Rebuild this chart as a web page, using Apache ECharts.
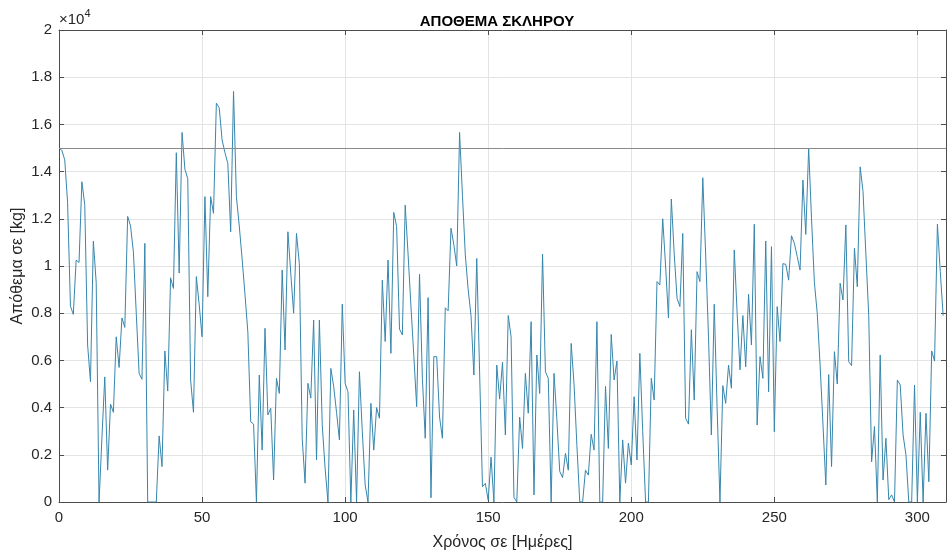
<!DOCTYPE html>
<html>
<head>
<meta charset="utf-8">
<script src="https://cdn.jsdelivr.net/npm/echarts@6/dist/echarts.min.js"></script>
<style>
  html, body { margin: 0; padding: 0; background: #ffffff; }
  #chart { width: 948px; height: 555px; }
</style>
</head>
<body>
<div id="chart"></div>
<script>
// Daily stock level of steel (kg), day 0 .. 309
const stockKg = [
  15000, 14900, 14500, 12700, 8300, 7950, 10250, 10150, 13570, 12600,
  6650, 5100, 11050, 9300, 0, 2700, 5300, 1350, 4150, 3800,
  7000, 5700, 7800, 7400, 12100, 11700, 10600, 8000, 5450, 5200,
  10960, 0, 0, 0, 0, 2800, 1500, 6400, 4700, 9500,
  9050, 14800, 9700, 15660, 14100, 13700, 5170, 3800, 9550, 8350,
  7000, 12940, 8700, 12940, 12230, 16900, 16700, 15340, 14800, 14350,
  11450, 17400, 12940, 11700, 10300, 8800, 7200, 3400, 3300, 0,
  5380, 2200, 7360, 3690, 3970, 930, 5240, 4600, 9830, 6440,
  11450, 9700, 8000, 11380, 10100, 2700, 800, 5030, 4400, 7710,
  1780, 7710, 3260, 1430, 0, 5660, 4900, 3800, 2630, 8380,
  5030, 4670, 0, 3900, 0, 5520, 3000, 720, 0, 4180,
  2200, 4000, 3550, 9400, 6800, 10250, 6300, 12270, 11670, 7330,
  7080, 12580, 10500, 8300, 6200, 4040, 9650, 5240, 2700, 8660,
  180, 6160, 6160, 3600, 2700, 8230, 8100, 11600, 10900, 10000,
  15660, 13000, 10470, 9000, 7900, 5380, 10320, 5500, 650, 790,
  80, 1900, 0, 5800, 4360, 5920, 2840, 7900, 7000, 200,
  0, 3600, 2270, 5450, 3760, 7640, 300, 6230, 4600, 10500,
  5520, 5240, 0, 5450, 3500, 1300, 1030, 2060, 1350, 6720,
  5000, 2400, 0, 0, 1350, 1140, 2870, 2200, 7640, 0,
  0, 4900, 2270, 7100, 5170, 5970, 0, 2630, 800, 2500,
  1570, 4460, 1780, 6300, 3000, 0, 0, 5240, 4320, 9340,
  9200, 12000, 10000, 7800, 12840, 10540, 8630, 8280, 11380, 3550,
  3300, 7300, 4320, 9760, 9340, 13740, 10500, 7000, 2840, 8380,
  4000, 0, 4930, 4180, 5800, 4820, 10680, 8000, 5600, 7900,
  5730, 8800, 6650, 11770, 3260, 6160, 5240, 11060, 4670, 10820,
  2980, 8280, 6800, 10100, 10070, 9400, 11280, 10960, 10400, 9830,
  13640, 11340, 15000, 12000, 9300, 8000, 5800, 3300, 720, 5400,
  1500, 6370, 5000, 9270, 8560, 11740, 5950, 5780, 10750, 9120,
  14200, 13150, 10500, 7900, 1700, 3200, 0, 6230, 930, 2700,
  100, 300, 0, 5170, 4960, 2840, 2000, 0, 0, 4960,
  0, 3800, 0, 3760, 860, 6400, 5970, 11770, 9760, 7900
];

// Reference stock level (kg)
const stockLimitKg = 15000;

// Axis ranges and tick spacing
const dayMin = 0, dayMax = 310, dayStep = 50;
const kgMin = 0, kgMax = 20000, kgStep = 2000;

const titleText = 'ΑΠΟΘΕΜΑ ΣΚΛΗΡΟΥ';
const xName = 'Χρόνος σε [Ημέρες]';
const yName = 'Απόθεμα σε [kg]';

const points = stockKg.map((v, i) => [i, v]);

const font = '"Liberation Sans", Arial, Helvetica, sans-serif';
const axisColor = '#4d4d4d';
const textColor = '#262626';
const gridColor = '#e3e3e3';

const chart = echarts.init(document.getElementById('chart'), null, { renderer: 'canvas' });

chart.setOption({
  animation: false,
  backgroundColor: '#ffffff',
  textStyle: { fontFamily: font },
  title: {
    text: titleText,
    left: 492,
    top: 9,
    textAlign: 'center',
    textStyle: { fontFamily: font, fontSize: 15, fontWeight: 'bold', color: '#000000' }
  },
  graphic: [{
    type: 'text',
    left: 59,
    top: 8,
    style: {
      text: '{a|×10}{b|4}',
      rich: {
        a: { fontFamily: font, fontSize: 15, fill: textColor, verticalAlign: 'bottom' },
        b: { fontFamily: font, fontSize: 11, fill: textColor, padding: [0, 0, 8, 0] }
      }
    }
  }, {
    // vertical axis title
    type: 'text',
    x: 18,
    y: 266,
    rotation: Math.PI / 2,
    style: {
      text: yName,
      fontFamily: font,
      fontSize: 16,
      fill: textColor,
      align: 'center',
      verticalAlign: 'middle'
    }
  }],
  grid: {
    left: 59, top: 30, width: 887, height: 472,
    containLabel: false, outerBoundsMode: 'none', show: false
  },
  xAxis: [{
    type: 'value',
    min: dayMin, max: dayMax, interval: dayStep,
    name: xName,
    nameLocation: 'middle',
    nameGap: 33,
    nameTextStyle: { fontFamily: font, fontSize: 16, color: textColor },
    axisLine: { show: true, onZero: false, lineStyle: { color: axisColor, width: 1 } },
    axisTick: { show: true, inside: true, length: 5, lineStyle: { color: axisColor } },
    axisLabel: { fontFamily: font, fontSize: 15, color: textColor, margin: 8, showMaxLabel: false },
    splitLine: { show: true, lineStyle: { color: gridColor, width: 1 } }
  }, {
    type: 'value', position: 'top',
    min: dayMin, max: dayMax, interval: dayStep,
    axisLine: { show: true, onZero: false, lineStyle: { color: axisColor, width: 1 } },
    axisTick: { show: true, inside: true, length: 5, lineStyle: { color: axisColor } },
    axisLabel: { show: false },
    splitLine: { show: false }
  }],
  yAxis: [{
    type: 'value',
    min: kgMin, max: kgMax, interval: kgStep,
    axisLine: { show: true, onZero: false, lineStyle: { color: axisColor, width: 1 } },
    axisTick: { show: true, inside: true, length: 5, lineStyle: { color: axisColor } },
    axisLabel: {
      fontFamily: font, fontSize: 15, color: textColor, margin: 7,
      formatter: v => String(Math.round(v / 1000) / 10)
    },
    splitLine: { show: true, lineStyle: { color: gridColor, width: 1 } }
  }, {
    type: 'value', position: 'right',
    min: kgMin, max: kgMax, interval: kgStep,
    axisLine: { show: true, onZero: false, lineStyle: { color: axisColor, width: 1 } },
    axisTick: { show: true, inside: true, length: 5, lineStyle: { color: axisColor } },
    axisLabel: { show: false },
    splitLine: { show: false }
  }],
  series: [{
    type: 'line',
    data: points,
    showSymbol: false,
    symbol: 'none',
    clip: true,
    lineStyle: { color: '#3786ad', width: 1 },
    markLine: {
      silent: true,
      symbol: 'none',
      label: { show: false },
      lineStyle: { color: '#8a8a8a', width: 1, type: 'solid' },
      data: [{ yAxis: stockLimitKg }]
    }
  }]
});
</script>
</body>
</html>
